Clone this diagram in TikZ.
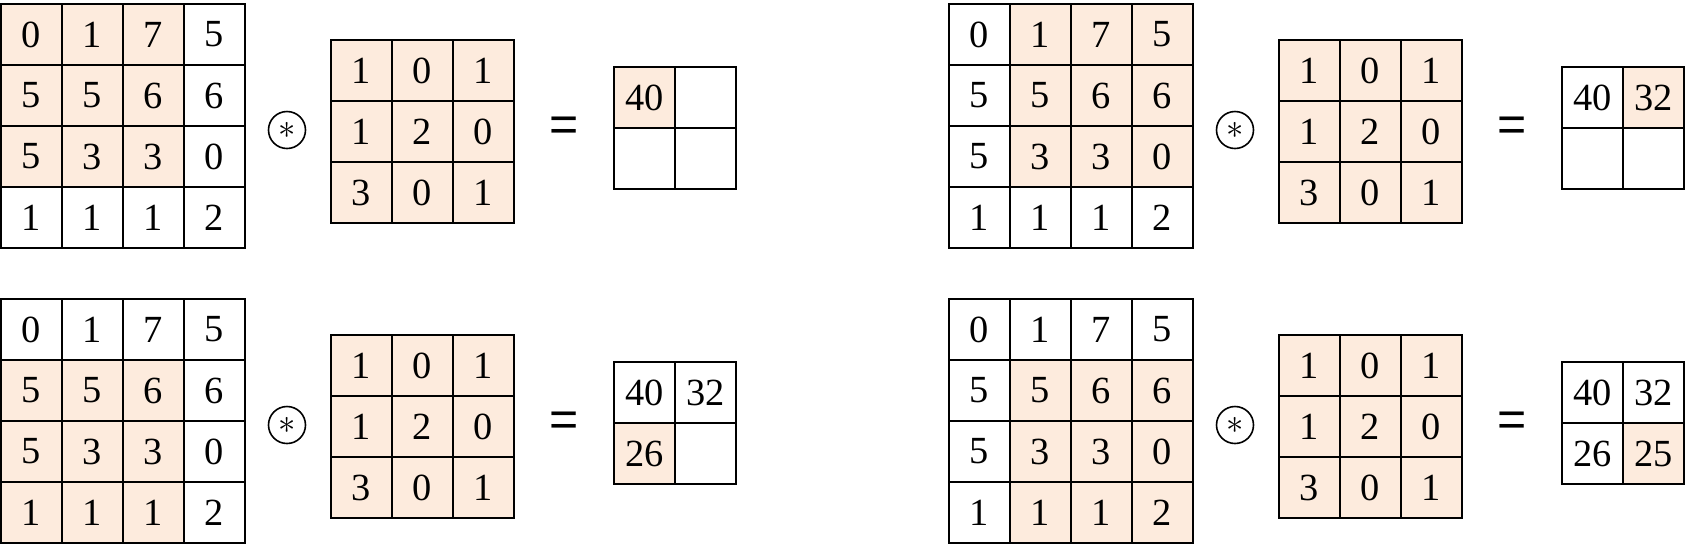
\documentclass[tikz,border=0pt]{standalone}
\usepackage{fontspec}
\setmainfont{Liberation Serif}
\newfontfamily\eqfont{Liberation Sans}
\definecolor{peach}{HTML}{FDEBDD}

\tikzset{
  cell/.style={draw, line width=1pt, minimum size=30.5pt, inner sep=0pt,
    font=\fontsize{19.2}{19.2}\selectfont},
  convop/.style={circle, draw, line width=0.8pt, minimum size=18.5pt,
    inner sep=0pt, font=\fontsize{19}{19}\selectfont},
  eqsign/.style={inner sep=0pt, font=\eqfont\fontsize{25}{25}\selectfont}
}

% #1 name, #2 shift, #3 first row of window, #4 first column of window
\newcommand{\convpanel}[4]{%
  \begin{scope}[shift={#2}]
    % input 4x4
    \foreach \vals [count=\row from 0] in {{0,1,7,5},{5,5,6,6},{5,3,3,0},{1,1,1,2}} {
      \foreach \v [count=\col from 0] in \vals {
        \pgfmathtruncatemacro\ishot{and(and(\row>=#3,\row<=#3+2),and(\col>=#4,\col<=#4+2))}
        \ifnum\ishot=1 \def\cellfill{peach}\else\def\cellfill{white}\fi
        \node[cell, fill=\cellfill] (#1-in-\row-\col) at ({31.5+61*\col},{34.5+61*\row}) {\v};
      }
    }
    \node[convop] (#1-op) at (287,130) {$\ast$};
    % kernel 3x3
    \foreach \vals [count=\row from 0] in {{1,0,1},{1,2,0},{3,0,1}} {
      \foreach \v [count=\col from 0] in \vals {
        \node[cell, fill=peach] (#1-k-\row-\col) at ({361.5+61*\col},{70.5+61*\row}) {\v};
      }
    }
    \node[eqsign] (#1-eq) at (564,129) {=};
    % output 2x2
    \pgfmathtruncatemacro\target{2*#3+#4}
    \foreach \v [count=\k from 0] in {40,32,26,25} {
      \pgfmathtruncatemacro\orow{\k/2}
      \pgfmathtruncatemacro\ocol{mod(\k,2)}
      \ifnum\k=\target \def\cellfill{peach}\else\def\cellfill{white}\fi
      \ifnum\k>\target \def\outval{}\else\let\outval\v\fi
      \node[cell, fill=\cellfill] (#1-out-\orow-\ocol) at ({644.5+61*\ocol},{97.5+61*\orow}) {\outval};
    }
  \end{scope}}

\begin{document}
\begin{tikzpicture}[x=0.5pt, y=-0.5pt]
  \useasboundingbox (0,0) rectangle (1685,559);
  \convpanel{tl}{(0,0)}{0}{0}
  \convpanel{tr}{(948,0)}{0}{1}
  \convpanel{bl}{(0,295)}{1}{0}
  \convpanel{br}{(948,295)}{1}{1}
\end{tikzpicture}
\end{document}
